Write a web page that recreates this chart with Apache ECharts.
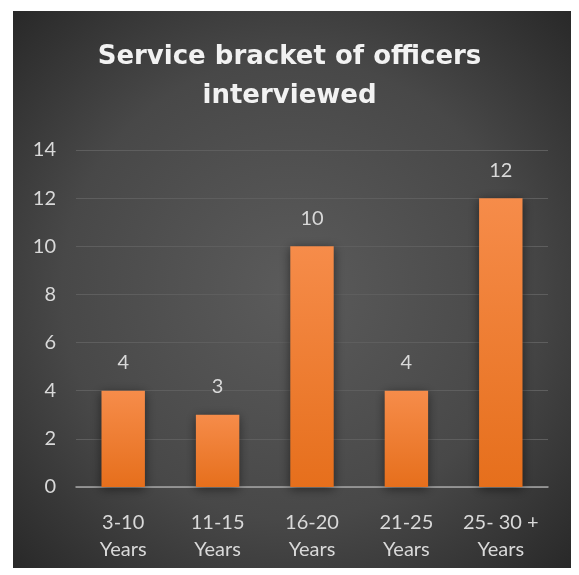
<!DOCTYPE html>
<html>
<head>
<meta charset="utf-8">
<script src="https://cdn.jsdelivr.net/npm/echarts@6/dist/echarts.min.js"></script>
<style>
  html, body { margin: 0; padding: 0; background: #ffffff; }
  #chart { width: 579px; height: 575px; }
</style>
</head>
<body>
<div id="chart"></div>
<script>
// Service brackets and number of officers interviewed in each
const categories = ['3-10\nYears', '11-15\nYears', '16-20\nYears', '21-25\nYears', '25- 30 +\nYears'];
const officers = [4, 3, 10, 4, 12];
const yTicks = [0, 2, 4, 6, 8, 10, 12, 14];

const chart = echarts.init(document.getElementById('chart'));
const font = 'Lato, "Open Sans", sans-serif';

chart.setOption({
  backgroundColor: '#ffffff',
  graphic: [{
    type: 'rect',
    z: -10,
    shape: { x: 13, y: 11, width: 558, height: 557 },
    style: {
      fill: {
        type: 'radial', x: 0.5, y: 0.5, r: 0.75,
        colorStops: [
          { offset: 0, color: '#5b5b5b' },
          { offset: 0.55, color: '#484848' },
          { offset: 1, color: '#242424' }
        ]
      }
    },
    silent: true
  }],
  title: {
    text: 'Service bracket of officers\ninterviewed',
    left: 'center',
    top: 33,
    textStyle: {
      color: '#f2f2f2',
      fontFamily: '"DejaVu Sans", sans-serif',
      fontWeight: 'bold',
      fontSize: 26,
      lineHeight: 39
    }
  },
  grid: { left: 76, right: 31, top: 150, bottom: 88 },
  xAxis: {
    type: 'category',
    data: categories,
    axisLine: { lineStyle: { color: '#a6a6a6', width: 1.5 } },
    axisTick: { show: false },
    axisLabel: {
      interval: 0,
      color: '#d9d9d9',
      fontFamily: font,
      fontSize: 20,
      lineHeight: 27,
      margin: 22
    }
  },
  yAxis: {
    type: 'value',
    min: yTicks[0],
    max: yTicks[yTicks.length - 1],
    interval: 2,
    axisLine: { show: false },
    axisTick: { show: false },
    splitLine: { lineStyle: { color: '#5e5e5e', width: 1 } },
    axisLabel: {
      color: '#d9d9d9',
      fontFamily: font,
      fontSize: 20,
      margin: 20
    }
  },
  series: [{
    type: 'bar',
    data: officers,
    barWidth: '46%',
    itemStyle: {
      color: {
        type: 'linear', x: 0, y: 0, x2: 0, y2: 1,
        colorStops: [
          { offset: 0, color: '#f68c4a' },
          { offset: 1, color: '#e66f1c' }
        ]
      },
      shadowColor: 'rgba(0,0,0,0.5)',
      shadowBlur: 10,
      shadowOffsetX: 0,
      shadowOffsetY: 2
    },
    label: {
      show: true,
      position: 'top',
      distance: 18,
      color: '#d9d9d9',
      fontFamily: font,
      fontSize: 20
    }
  }]
});
</script>
</body>
</html>
